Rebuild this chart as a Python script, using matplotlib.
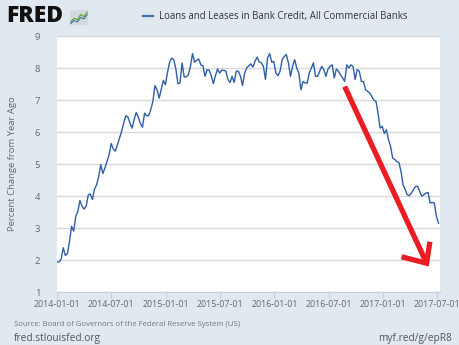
"""
Loans and Leases in Bank Credit, All Commercial Banks
percent change from year ago, weekly, FRED style chart with a red arrow drawn on top
"""

import matplotlib
matplotlib.use("Agg")
import matplotlib.dates as mdates
import matplotlib.pyplot as plt
import pandas as pd
from matplotlib.lines import Line2D

plt.rcParams['font.family'] = ['Open Sans', 'DejaVu Sans']

#Data, weekly (Wednesday) values
start_date = "2014-01-01"
values_2014_2015 = [
    1.94, 1.94, 2.03, 2.38, 2.14, 2.20, 2.58, 3.05, 2.90, 3.36,
    3.52, 3.86, 3.68, 3.59, 3.68, 4.04, 4.06, 3.89, 4.22, 4.35,
    4.61, 4.98, 4.70, 4.88, 5.08, 5.29, 5.64, 5.47, 5.40, 5.60,
    5.81, 6.02, 6.28, 6.51, 6.47, 6.28, 6.12, 6.39, 6.61, 6.47,
    6.26, 6.15, 6.59, 6.51, 6.51, 6.70, 6.96, 7.45, 7.32, 7.06,
    7.34, 7.61, 7.48, 7.86, 8.18, 8.31, 8.26, 7.97, 7.51, 7.53,
    8.16, 7.72, 7.72, 7.79, 8.05, 8.45, 8.18, 8.24, 8.28, 8.10,
    8.07, 7.74, 7.95, 7.93, 7.76, 7.51, 7.76, 7.97, 7.84, 7.93,
    7.93, 7.90, 7.64, 7.55, 7.74, 7.55, 7.90, 7.90, 7.74, 7.45,
    7.84, 8.00, 8.07, 8.13, 8.03, 8.21, 8.34, 8.19,
]
values_2015_2017 = [
    8.16, 8.05, 7.64, 8.31, 8.45, 8.18, 8.21, 7.84, 7.76, 7.90,
    8.26, 8.36, 8.42, 8.16, 7.74, 8.05, 8.26, 8.00, 7.84, 7.32,
    7.58, 7.53, 7.53, 7.84, 8.00, 8.16, 7.74, 7.74, 7.90, 8.05,
    7.95, 7.74, 7.97, 8.05, 8.10, 7.69, 7.97, 7.90, 7.79, 7.69,
    7.58, 8.10, 8.00, 8.10, 8.05, 7.64, 7.95, 7.90, 7.58, 7.58,
    7.32, 7.27, 7.22, 7.11, 6.99, 6.96, 6.59, 6.12, 6.18, 5.95,
    6.07, 5.76, 5.55, 5.19, 5.14, 5.08, 5.05, 4.77, 4.35, 4.20,
    4.04, 4.01, 4.09, 4.20, 4.30, 4.30, 4.14, 3.99, 4.04, 4.09,
    4.11, 3.78, 3.80, 3.78, 3.36, 3.15,
]
values = values_2014_2015 + values_2015_2017
dates = pd.date_range(start_date, periods=len(values), freq="7D")

tick_dates = ["2014-01-01", "2014-07-01", "2015-01-01", "2015-07-01",
              "2016-01-01", "2016-07-01", "2017-01-01", "2017-07-01"]
y_ticks = [1, 2, 3, 4, 5, 6, 7, 8, 9]

#Red arrow drawn over the chart (shaft and the two barbs of the head)
arrow_shaft_dates = ["2016-08-24", "2017-05-26"]
arrow_shaft_values = [7.42, 1.90]
arrow_head_dates = ["2017-03-03", "2017-05-26", "2017-06-06"]
arrow_head_values = [2.10, 1.90, 2.57]

#Logo icon lines
icon_green = [0.2, 0.45, 0.35, 0.7, 0.55, 0.85]
icon_blue = [0.1, 0.3, 0.2, 0.5, 0.4, 0.7]

#Colors
bg_color = "#e1e9f0"
line_color = "#2f5ea8"
grid_color = "#d8d8d8"
text_gray = "#666666"

fig = plt.figure(figsize=(4.6, 3.45), dpi=100, facecolor=bg_color)
ax = fig.add_axes([57 / 460, 1 - 292 / 345, 383 / 460, 256 / 345])
ax.set_facecolor("white")

ax.plot(dates, values, color=line_color, lw=1.0, zorder=3)

ax.plot(pd.to_datetime(arrow_shaft_dates), arrow_shaft_values, color="#ec1c24",
        lw=3.8, solid_capstyle="butt", zorder=4)
ax.plot(pd.to_datetime(arrow_head_dates), arrow_head_values, color="#ec1c24",
        lw=3.8, solid_capstyle="butt", solid_joinstyle="miter", zorder=4)

ax.set_ylim(1, 9)
ax.set_yticks(y_ticks)
ax.set_xlim(pd.Timestamp(start_date), pd.Timestamp("2017-07-10"))
ax.set_xticks(pd.to_datetime(tick_dates))
ax.xaxis.set_major_formatter(mdates.DateFormatter("%Y-%m-%d"))

ax.grid(axis="y", color=grid_color, lw=1.0, zorder=0)
for side in ["left", "right", "top"]:
    ax.spines[side].set_visible(False)
ax.spines["bottom"].set_color("#c0d0e0")
ax.spines["bottom"].set_linewidth(0.8)

ax.tick_params(axis="y", length=0, pad=12, labelsize=6.8, labelcolor=text_gray)
ax.tick_params(axis="x", length=4.5, width=0.8, color="#c0d0e0", pad=1.5,
               labelsize=6.4, labelcolor=text_gray)

ax.set_ylabel("Percent Change from Year Ago", fontsize=6.8, color=text_gray)
ax.yaxis.set_label_coords(-0.104, 0.5)

#Header: logo and legend
fig.text(6 / 460, 1 - 16 / 345, "FRED", fontsize=16.5, fontweight="heavy",
         color="#111111", va="center", ha="left")
icon = fig.add_axes([70 / 460, 1 - 25 / 345, 18 / 460, 15 / 345])
icon.set_facecolor("#d4d9dd")
icon.plot(range(len(icon_green)), icon_green, color="#5aa02c", lw=0.8)
icon.plot(range(len(icon_blue)), icon_blue, color="#4572a7", lw=0.8)
icon.set_ylim(0, 1)
icon.set_xticks([])
icon.set_yticks([])
for side in icon.spines:
    icon.spines[side].set_visible(False)

fig.add_artist(Line2D([143 / 460, 153 / 460], [1 - 16 / 345, 1 - 16 / 345],
                      color="#4572a7", lw=1.6))
fig.text(159 / 460, 1 - 16 / 345, "Loans and Leases in Bank Credit, All Commercial Banks",
         fontsize=6.9, color="#333333", va="center", ha="left")

#Footer
fig.text(14 / 460, 1 - 325 / 345, "Source: Board of Governors of the Federal Reserve System (US)",
         fontsize=5.6, color="#777777", va="center", ha="left")
fig.text(14 / 460, 1 - 338 / 345, "fred.stlouisfed.org",
         fontsize=7.3, color="#555555", va="center", ha="left")
fig.text(452 / 460, 1 - 338 / 345, "myf.red/g/epR8",
         fontsize=7.3, color="#555555", va="center", ha="right")

fig.savefig("out.png", dpi=100, facecolor=bg_color)
